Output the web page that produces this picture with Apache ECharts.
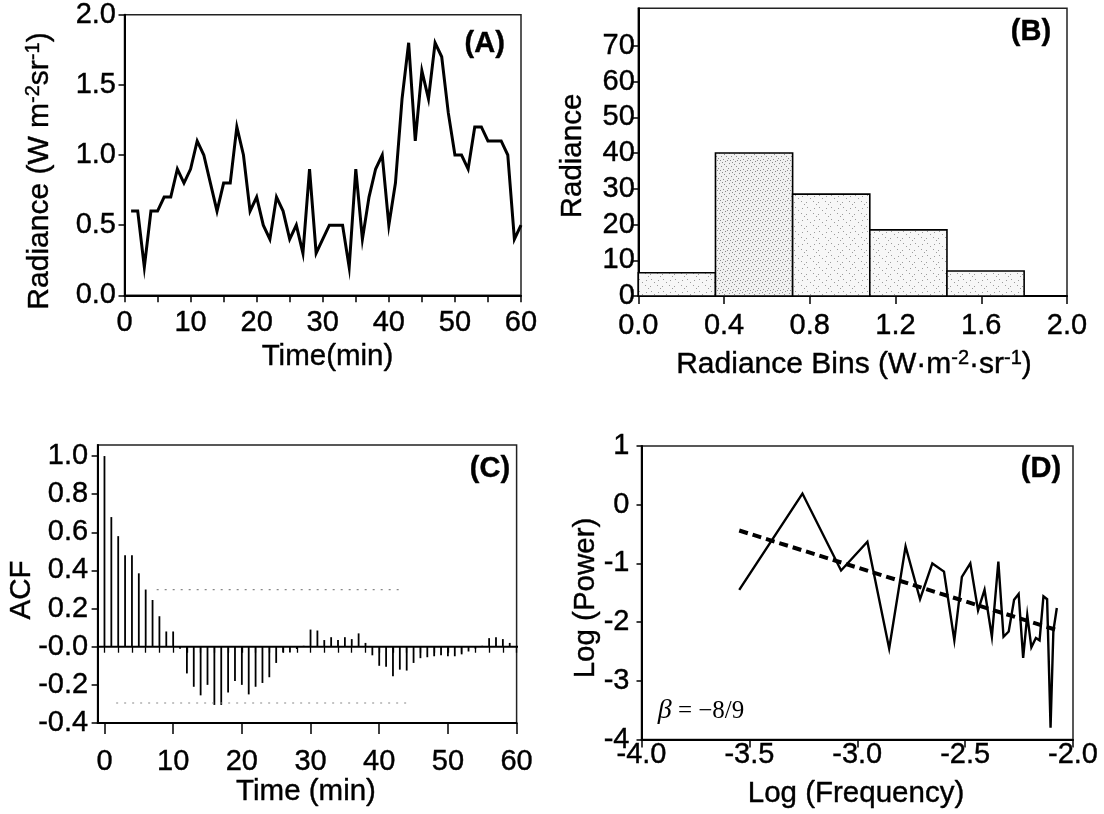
<!DOCTYPE html>
<html>
<head>
<meta charset="utf-8">
<script src="https://cdn.jsdelivr.net/npm/echarts@6/dist/echarts.min.js"></script>
<style>html,body{margin:0;padding:0;background:#fff}#c{width:1104px;height:814px}</style>
</head>
<body>
<div id="c"></div>
<script>
// ---------- Panel A: radiance time series ----------
const timeMin = [1,2,3,4,5,6,7,8,9,10,11,12,13,14,15,16,17,18,19,20,21,22,23,24,25,26,27,28,29,30,
                 31,32,33,34,35,36,37,38,39,40,41,42,43,44,45,46,47,48,49,50,51,52,53,54,55,56,57,58,59,60];
const radiance = [0.6,0.6,0.2,0.6,0.6,0.7,0.7,0.9,0.8,0.9,1.1,1.0,0.8,0.6,0.8,0.8,1.2,1.0,0.6,0.7,
                  0.5,0.4,0.7,0.6,0.4,0.5,0.3,0.9,0.3,0.4,0.5,0.5,0.5,0.2,0.9,0.4,0.7,0.9,1.0,0.5,
                  0.8,1.4,1.8,1.1,1.6,1.4,1.8,1.7,1.3,1.0,1.0,0.9,1.2,1.2,1.1,1.1,1.1,1.0,0.4,0.5];
const aXTicks = [0,5,10,15,20,25,30,35,40,45,50,55,60];
const aXLabels = [0,10,20,30,40,50,60];
const aYLabels = [0,0.5,1.0,1.5,2.0];

// ---------- Panel B: histogram ----------
const binLow = [0.00,0.36,0.72,1.08,1.44];
const binHigh = [0.36,0.72,1.08,1.44,1.80];
const binHeight = [6.5,40,28.5,18.5,7];
const bXLabels = [0,0.4,0.8,1.2,1.6,2.0];
const bYLabels = [0,10,20,30,40,50,60,70];

// ---------- Panel C: ACF ----------
const acfLag = [0,1,2,3,4,5,6,7,8,9,10,11,12,13,14,15,16,17,18,19,20,21,22,23,24,25,26,27,28,29,
                30,31,32,33,34,35,36,37,38,39,40,41,42,43,44,45,46,47,48,49,50,51,52,53,54,55,56,57,58,59];
const acfValue = [1.0,0.68,0.58,0.48,0.48,0.385,0.30,0.245,0.16,0.08,0.08,-0.01,-0.14,-0.21,-0.255,-0.20,-0.305,-0.305,-0.24,-0.18,
                  -0.20,-0.25,-0.21,-0.19,-0.16,-0.085,-0.03,-0.03,-0.012,0.005,0.09,0.085,0.035,0.05,0.035,0.05,0.04,0.07,0.02,-0.045,
                  -0.10,-0.105,-0.155,-0.12,-0.125,-0.085,-0.06,-0.055,-0.05,-0.045,-0.05,-0.05,-0.04,-0.025,-0.01,0.005,0.045,0.05,0.04,0.02];
const zeroLineLag = [-1, 62.3];
const confUpperLag = [7.6, 42.9];
const confUpperVal = [0.30, 0.30];
const confLowerLag = [1.7, 44.5];
const confLowerVal = [-0.295, -0.295];
const cXMajorTicks = [0,10,20,30,40,50,60];
const cXMinorTicks = [0,2,4,6,8,10,12,14,16,18,20,22,24,26,28,30,32,34,36,38,40,42,44,46,48,50,52,54,56,58,60];
const cYLabels = [-0.4,-0.2,0,0.2,0.4,0.6,0.8,1.0];

// ---------- Panel D: power spectrum ----------
const logFreq = [-3.547,-3.254,-3.075,-2.953,-2.852,-2.776,-2.709,-2.652,-2.598,-2.550,-2.515,-2.476,-2.440,-2.410,-2.376,
                 -2.346,-2.322,-2.298,-2.273,-2.252,-2.231,-2.212,-2.193,-2.172,-2.155,-2.137,-2.120,-2.104,-2.091,-2.075];
const logPower = [-1.45,0.19,-1.12,-0.63,-2.45,-0.71,-1.61,-1.00,-1.14,-2.31,-1.23,-1.00,-1.80,-1.45,-2.25,
                  -0.97,-2.25,-2.16,-1.62,-1.52,-2.61,-1.88,-2.43,-2.27,-2.31,-1.56,-1.61,-3.80,-2.15,-1.76];
const fitFreq = [-3.547, -2.080];
const fitPower = [-0.44, -2.13];
const dXLabels = [-4.0,-3.5,-3.0,-2.5,-2.0];
const dYLabels = [-4,-3,-2,-1,0,1];

// ---------- helpers ----------
const FONT = 'Liberation Sans, Arial, Helvetica, sans-serif';
const TICK_FS = 29;
const zip = (a, b) => a.map((v, i) => [v, b[i]]);

function lbl(o) {
  return Object.assign({ color: '#000', fontFamily: FONT, fontSize: TICK_FS,
    textBorderColor: '#000', textBorderWidth: 0.4 }, o);
}
function tick(len, vals) {
  return { show: true, inside: false, length: len, customValues: vals, lineStyle: { color: '#000', width: 1.5 } };
}
function axis(gridIndex, o) {
  return Object.assign({
    type: 'value', gridIndex: gridIndex,
    axisLine: { show: true, onZero: false, lineStyle: { color: '#000', width: 2 } },
    splitLine: { show: false },
    minorTick: { show: false }
  }, o);
}

function title(text, x, y, vertical, extra) {
  return {
    type: 'text', x: x, y: y, rotation: vertical ? Math.PI / 2 : 0,
    style: Object.assign({
      text: text, fontFamily: FONT, fontSize: 29.5, fill: '#000',
      stroke: '#000', lineWidth: 0.4,
      align: 'center', verticalAlign: 'middle'
    }, extra || {})
  };
}
const supRich = { sup: { fontSize: 20, fontFamily: FONT, padding: [0, 0, 13, 0] } };

// sparse stipple textures for the histogram bars (style only)
function stipple(points, size, bg, ink) {
  const c = document.createElement('canvas');
  c.width = size; c.height = size;
  const g = c.getContext('2d');
  g.fillStyle = bg; g.fillRect(0, 0, size, size);
  g.fillStyle = ink;
  points.forEach(p => g.fillRect(p[0], p[1], 1, 1));
  return { image: c, repeat: 'repeat' };
}
const denseFill = stipple([[0,0],[2,2],[4,4],[6,6],[8,8],[1,6],[5,1],[9,3],[3,9],[7,0]], 10, '#f1f1f1', '#8c8c8c');
const lightFill = stipple([[0,0],[3,3],[6,6],[9,9],[2,10],[10,4]], 12, '#f7f7f7', '#9c9c9c');

const chart = echarts.init(document.getElementById('c'), null, { renderer: 'canvas' });

const gridStyle = { show: true, borderColor: '#222', borderWidth: 1.5, backgroundColor: 'transparent', containLabel: false };

const option = {
  animation: false,
  backgroundColor: '#fff',
  grid: [
    Object.assign({ left: 124.5, top: 14.5, width: 396.5, height: 280.8 }, gridStyle),
    Object.assign({ left: 638.3, top: 8.3, width: 428.7, height: 287.7 }, gridStyle),
    Object.assign({ left: 97.6, top: 445, width: 419, height: 278 }, gridStyle),
    Object.assign({ left: 641.5, top: 446, width: 431.5, height: 293.5 }, gridStyle)
  ],
  xAxis: [
    axis(0, { min: 0, max: 60, interval: 5, axisTick: tick(7, aXTicks),
      axisLabel: lbl({ margin: 13, customValues: aXLabels }) }),
    axis(1, { min: 0, max: 2, interval: 0.4, axisTick: tick(8, bXLabels),
      axisLabel: lbl({ margin: 15, customValues: bXLabels, formatter: v => v.toFixed(1) }) }),
    axis(2, { min: -1, max: 60, axisTick: tick(11, cXMajorTicks),
      axisLabel: lbl({ margin: 24, customValues: cXMajorTicks }) }),
    axis(3, { min: -4, max: -2, interval: 0.5, axisTick: tick(8, dXLabels),
      axisLabel: lbl({ margin: 1, customValues: dXLabels, formatter: v => v.toFixed(1) }) }),
    // minor ticks for panel C
    axis(2, { min: -1, max: 60, position: 'bottom', axisLine: { show: false },
      axisTick: { show: true, length: 6, customValues: cXMinorTicks, lineStyle: { color: '#000', width: 1.3 } },
      axisLabel: { show: false } })
  ],
  yAxis: [
    axis(0, { min: 0, max: 2, interval: 0.5, axisTick: tick(6, aYLabels),
      axisLabel: lbl({ margin: 8.5, customValues: aYLabels, formatter: v => v.toFixed(1) }) }),
    axis(1, { min: 0, max: 80.5, axisTick: tick(6, bYLabels),
      axisLabel: lbl({ margin: 3.5, customValues: bYLabels }) }),
    axis(2, { min: -0.4, max: 1.058, axisTick: tick(6, cYLabels),
      axisLabel: lbl({ margin: 9.5, customValues: cYLabels,
        formatter: v => (Math.abs(v) < 1e-9 ? '-0.0' : v.toFixed(1)) }) }),
    axis(3, { min: -4, max: 1, interval: 1, axisTick: tick(5, dYLabels),
      axisLabel: lbl({ margin: 12, customValues: dYLabels }) })
  ],
  series: [
    { type: 'line', xAxisIndex: 0, yAxisIndex: 0, data: zip(timeMin, radiance),
      symbol: 'none', lineStyle: { color: '#000', width: 3, join: 'miter' } },
    { type: 'custom', xAxisIndex: 1, yAxisIndex: 1,
      data: binLow.map((lo, i) => [lo, binHigh[i], binHeight[i]]),
      encode: { x: [0, 1], y: 2 },
      renderItem: function (params, api) {
        const p0 = api.coord([api.value(0), api.value(2)]);
        const p1 = api.coord([api.value(1), 0]);
        return { type: 'rect',
          shape: { x: p0[0], y: p0[1], width: p1[0] - p0[0], height: p1[1] - p0[1] },
          style: { fill: params.dataIndex === 1 ? denseFill : lightFill, stroke: '#000', lineWidth: 1.6 } };
      } },
    { type: 'bar', xAxisIndex: 2, yAxisIndex: 2, data: zip(acfLag, acfValue),
      barWidth: 1.8, itemStyle: { color: '#000' } },
    { type: 'line', xAxisIndex: 2, yAxisIndex: 2, data: zip(zeroLineLag, [0, 0]), clip: false,
      symbol: 'none', lineStyle: { color: '#000', width: 2 } },
    { type: 'line', xAxisIndex: 2, yAxisIndex: 2, data: zip(confUpperLag, confUpperVal),
      symbol: 'none', lineStyle: { color: '#888', width: 1.2, type: [2, 6] } },
    { type: 'line', xAxisIndex: 2, yAxisIndex: 2, data: zip(confLowerLag, confLowerVal),
      symbol: 'none', lineStyle: { color: '#888', width: 1.2, type: [2, 6] } },
    { type: 'line', xAxisIndex: 3, yAxisIndex: 3, data: zip(logFreq, logPower),
      symbol: 'none', lineStyle: { color: '#000', width: 2.4, join: 'miter' } },
    { type: 'line', xAxisIndex: 3, yAxisIndex: 3, data: zip(fitFreq, fitPower),
      symbol: 'none', lineStyle: { color: '#000', width: 4, type: [9, 5] } }
  ],
  graphic: [
    title('Radiance (W m{sup|-2}sr{sup|-1})', 39.5, 171, true, { rich: supRich, fontSize: 30 }),
    title('Time(min)', 327.5, 357, false),
    title('(A)', 484.7, 44, false, { fontWeight: 'bold', fontSize: 29 }),
    title('Radiance', 573, 156, true),
    title('Radiance Bins (W·m{sup|-2}·sr{sup|-1})', 854, 365, false, { rich: supRich, fontSize: 30 }),
    title('(B)', 1031, 32, false, { fontWeight: 'bold', fontSize: 29 }),
    title('ACF', 22, 590, true),
    title('Time (min)', 306, 792, false),
    title('(C)', 490, 469, false, { fontWeight: 'bold', fontSize: 29 }),
    title('Log (Power)', 586, 598, true),
    title('Log (Frequency)', 856, 794, false),
    title('(D)', 1041, 469, false, { fontWeight: 'bold', fontSize: 29 }),
    title('{b|β} = −8/9', 701, 711, false, {
      fontFamily: 'Liberation Serif, Times New Roman, serif', fontSize: 25, lineWidth: 0,
      rich: { b: { fontFamily: 'Liberation Serif, Times New Roman, serif', fontStyle: 'italic', fontSize: 28 } } })
  ]
};
chart.setOption(option);
</script>
</body>
</html>
